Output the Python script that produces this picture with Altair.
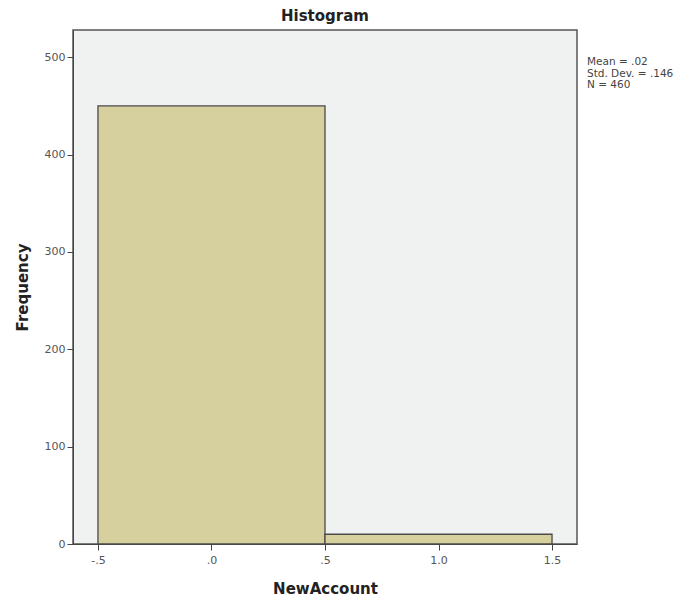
import altair as alt
import pandas as pd

bin_start = [-0.5, 0.5]
bin_end = [0.5, 1.5]
counts = [450, 10]
stats_lines = ["Mean = .02", "Std. Dev. = .146", "N = 460"]
x_ticks = [-0.5, 0.0, 0.5, 1.0, 1.5]
y_ticks = [0, 100, 200, 300, 400, 500]

bars_df = pd.DataFrame({"start": bin_start, "end": bin_end, "count": counts})
stats_df = pd.DataFrame({"line": stats_lines, "i": list(range(len(stats_lines)))})

FONT = "DejaVu Sans"
W, H = 504, 514

x_scale = alt.Scale(domain=[-0.61, 1.61], nice=False, zero=False)
y_scale = alt.Scale(domain=[0, 528], nice=False)

bars = alt.Chart(bars_df).mark_rect(
    fill="#d6d09f", stroke="#4a4a4a", strokeWidth=1.3
).encode(
    x=alt.X("start:Q", scale=x_scale, title="NewAccount",
            axis=alt.Axis(values=x_ticks,
                          labelExpr="datum.value == 0 ? '.0' : (datum.value < 0 ? '-' + replace(format(abs(datum.value), '.1f'), '0.', '.') : (datum.value < 1 ? replace(format(datum.value, '.1f'), '0.', '.') : format(datum.value, '.1f')))",
                          grid=False, tickSize=6, tickColor="#444", domainColor="#444",
                          labelColor="#555", labelFontSize=11, labelFont=FONT, labelPadding=4,
                          titleFont=FONT, titleFontSize=15, titleFontWeight="bold",
                          titleColor="#222", titlePadding=16, labelFlush=False)),
    x2="end:Q",
    y=alt.Y("count:Q", scale=y_scale, title="Frequency",
            axis=alt.Axis(values=y_ticks, grid=False, tickSize=6, tickColor="#444",
                          domainColor="#444", labelColor="#555", labelFontSize=11,
                          labelFont=FONT, labelPadding=2,
                          titleFont=FONT, titleFontSize=15, titleFontWeight="bold",
                          titleColor="#222", titlePadding=14)),
    y2=alt.datum(0),
)

stats = alt.Chart(stats_df).mark_text(
    align="left", baseline="middle", font=FONT, fontSize=10.5, color="#444"
).encode(
    x=alt.value(W + 10),
    y=alt.Y("i:O", axis=None, scale=alt.Scale(range=[32, 55], type="point", padding=0)),
    text="line:N",
)

chart = alt.layer(bars, stats).resolve_scale(y="independent").properties(
    width=W, height=H,
    title=alt.TitleParams("Histogram", font=FONT, fontSize=15, fontWeight="bold",
                          color="#222", anchor="middle", offset=6),
    autosize=alt.AutoSizeParams(type="none"),
    padding={"left": 65, "top": 22, "right": 102, "bottom": 56},
    background="white",
).configure_view(
    fill="#f0f1f1", stroke="#555", strokeWidth=1.5
)

chart.save("out.html", embed_options={"renderer": "svg", "actions": False})
